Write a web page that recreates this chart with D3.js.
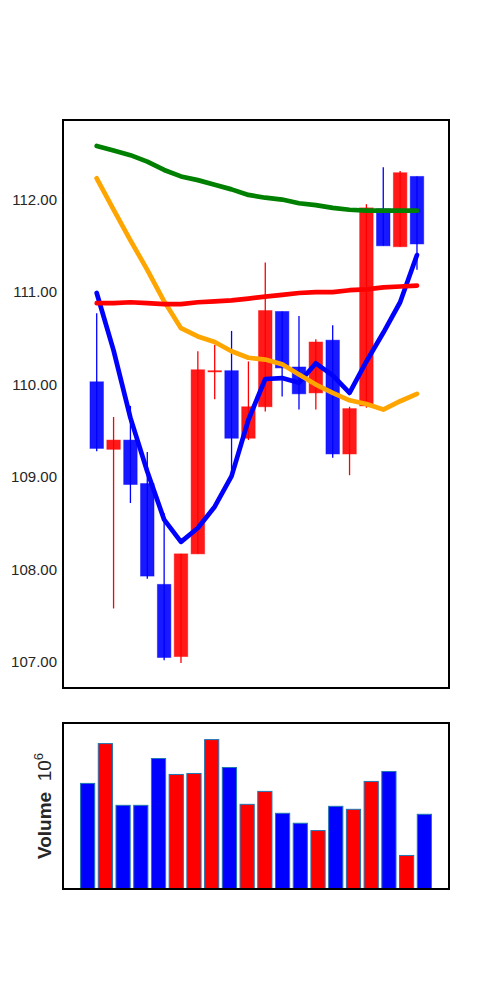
<!DOCTYPE html>
<html>
<head>
<meta charset="utf-8">
<script src="https://cdn.jsdelivr.net/npm/d3@7"></script>
<style>
  body { margin: 0; background: #fff; }
  svg { display: block; }
</style>
</head>
<body>
<div id="chart"></div>
<script>
// daily prices, 20 sessions
const opens  = [110.03, 109.30, 109.40, 108.93, 107.84, 107.06, 108.17, 110.14, 110.15, 109.42,
                109.76, 110.79, 110.19, 109.91, 110.48, 109.25, 109.77, 111.90, 111.49, 112.25];
const highs  = [110.77, 109.65, 109.77, 109.27, 108.61, 108.17, 110.36, 110.43, 110.58, 110.25,
                111.32, 110.79, 110.74, 110.49, 110.64, 109.76, 111.95, 112.35, 112.31, 112.25];
const lows   = [109.28, 107.58, 108.72, 107.90, 107.02, 106.99, 108.17, 109.84, 109.05, 109.40,
                109.71, 109.87, 109.73, 109.73, 109.21, 109.02, 109.75, 111.50, 111.49, 111.24];
const closes = [109.31, 109.40, 108.92, 107.93, 107.05, 108.17, 110.16, 110.15, 109.42, 109.76,
                110.80, 110.18, 109.90, 110.46, 109.25, 109.74, 111.91, 111.50, 112.29, 111.52];

// volume in 10^6
const volumes = [3.18, 4.38, 2.52, 2.52, 3.93, 3.45, 3.48, 4.50, 3.66, 2.55,
                 2.94, 2.28, 1.98, 1.76, 2.49, 2.40, 3.24, 3.54, 1.01, 2.25];

// moving averages
const ma5  = [110.99, 110.37, 109.64, 109.06, 108.54, 108.30, 108.45, 108.68, 109.01, 109.62,
              110.06, 110.07, 110.02, 110.23, 110.10, 109.91, 110.25, 110.56, 110.89, 111.40];
const ma10 = [112.23, 111.89, 111.56, 111.24, 110.90, 110.61, 110.52, 110.46, 110.36, 110.29,
              110.27, 110.22, 110.11, 110.00, 109.91, 109.83, 109.79, 109.73, 109.82, 109.90];
const ma20 = [110.88, 110.88, 110.89, 110.88, 110.87, 110.87, 110.89, 110.90, 110.91, 110.93,
              110.95, 110.97, 110.99, 111.00, 111.00, 111.02, 111.03, 111.05, 111.06, 111.07];
const ma30 = [112.58, 112.53, 112.48, 112.41, 112.32, 112.25, 112.21, 112.16, 112.11, 112.05,
              112.02, 112.00, 111.96, 111.94, 111.91, 111.89, 111.88, 111.88, 111.88, 111.88];

const priceTicks = [107, 108, 109, 110, 111, 112];

const W = 500, H = 1000;
const main = {left: 63, right: 449, top: 120, bottom: 688};
const vol  = {left: 63, right: 449, top: 723, bottom: 889};

const svg = d3.select('#chart').append('svg')
    .attr('width', W).attr('height', H);

const idx = d3.range(opens.length);

const x = d3.scaleLinear().domain([-2, 20.9]).range([main.left, main.right]);
const y = d3.scaleLinear().domain([106.72, 112.86]).range([main.bottom, main.top]);

const up = i => closes[i] >= opens[i];
const col = i => up(i) ? '#ff0000' : '#0000ff';
const bw = x(0.8) - x(0);

// candles
const candles = svg.append('g').attr('class', 'candles');

candles.selectAll('.wick').data(idx)
    .join('line').attr('class', 'wick')
    .attr('x1', i => x(i)).attr('x2', i => x(i))
    .attr('y1', i => y(highs[i])).attr('y2', i => y(lows[i]))
    .attr('stroke', col).attr('stroke-width', 1.3);

candles.selectAll('.body').data(idx)
    .join('rect').attr('class', 'body')
    .attr('x', i => x(i) - bw / 2)
    .attr('width', bw)
    .attr('y', i => y(Math.max(opens[i], closes[i])))
    .attr('height', i => Math.max(1.2, Math.abs(y(opens[i]) - y(closes[i]))))
    .attr('fill', col).attr('fill-opacity', 0.9)
    .attr('stroke', col).attr('stroke-opacity', 0.45).attr('stroke-width', 1);

// moving average lines
const maLines = [
    {vals: ma5,  color: '#0000ff'},
    {vals: ma10, color: '#ffa500'},
    {vals: ma20, color: '#ff0000'},
    {vals: ma30, color: '#008000'}
];

const line = d3.line().x((d, i) => x(i)).y(d => y(d));

svg.append('g').attr('class', 'ma')
    .selectAll('path').data(maLines)
    .join('path')
    .attr('d', d => line(d.vals))
    .attr('fill', 'none')
    .attr('stroke', d => d.color)
    .attr('stroke-width', 4.7)
    .attr('stroke-linejoin', 'round')
    .attr('stroke-linecap', 'round');

// price axis (labels only)
const yAxis = d3.axisLeft(y).tickValues(priceTicks)
    .tickFormat(d3.format('.2f')).tickSize(0).tickPadding(6);

svg.append('g').attr('transform', `translate(${main.left},0)`)
    .call(yAxis)
    .call(g => g.select('.domain').remove())
    .call(g => g.selectAll('text')
        .attr('font-family', '"Liberation Sans", Arial, sans-serif')
        .attr('font-size', 15).attr('fill', '#262626'));

svg.append('rect')
    .attr('x', main.left).attr('y', main.top)
    .attr('width', main.right - main.left).attr('height', main.bottom - main.top)
    .attr('fill', 'none').attr('stroke', '#000').attr('stroke-width', 2);

// volume panel
const xv = d3.scaleLinear().domain([-1.39, 20.39]).range([vol.left, vol.right]);
const yv = d3.scaleLinear().domain([0, 5]).range([vol.bottom, vol.top]);
const vw = xv(0.8) - xv(0);

svg.append('g').attr('class', 'volume')
    .selectAll('rect').data(idx)
    .join('rect')
    .attr('x', i => xv(i) - vw / 2)
    .attr('width', vw)
    .attr('y', i => yv(volumes[i]))
    .attr('height', i => yv(0) - yv(volumes[i]))
    .attr('fill', col)
    .attr('stroke', '#1f77b4').attr('stroke-width', 1);

svg.append('rect')
    .attr('x', vol.left).attr('y', vol.top)
    .attr('width', vol.right - vol.left).attr('height', vol.bottom - vol.top)
    .attr('fill', 'none').attr('stroke', '#000').attr('stroke-width', 2);

const label = svg.append('text')
    .attr('transform', `translate(51,${(vol.top + vol.bottom) / 2}) rotate(-90)`)
    .attr('text-anchor', 'middle')
    .attr('font-family', '"Liberation Sans", Arial, sans-serif')
    .attr('font-size', 19).attr('fill', '#262626');
label.append('tspan').attr('font-weight', 'bold').text('Volume');
label.append('tspan').text('\u00a0 10');
label.append('tspan').attr('font-size', 13).attr('dy', -8).text('6');
</script>
</body>
</html>
